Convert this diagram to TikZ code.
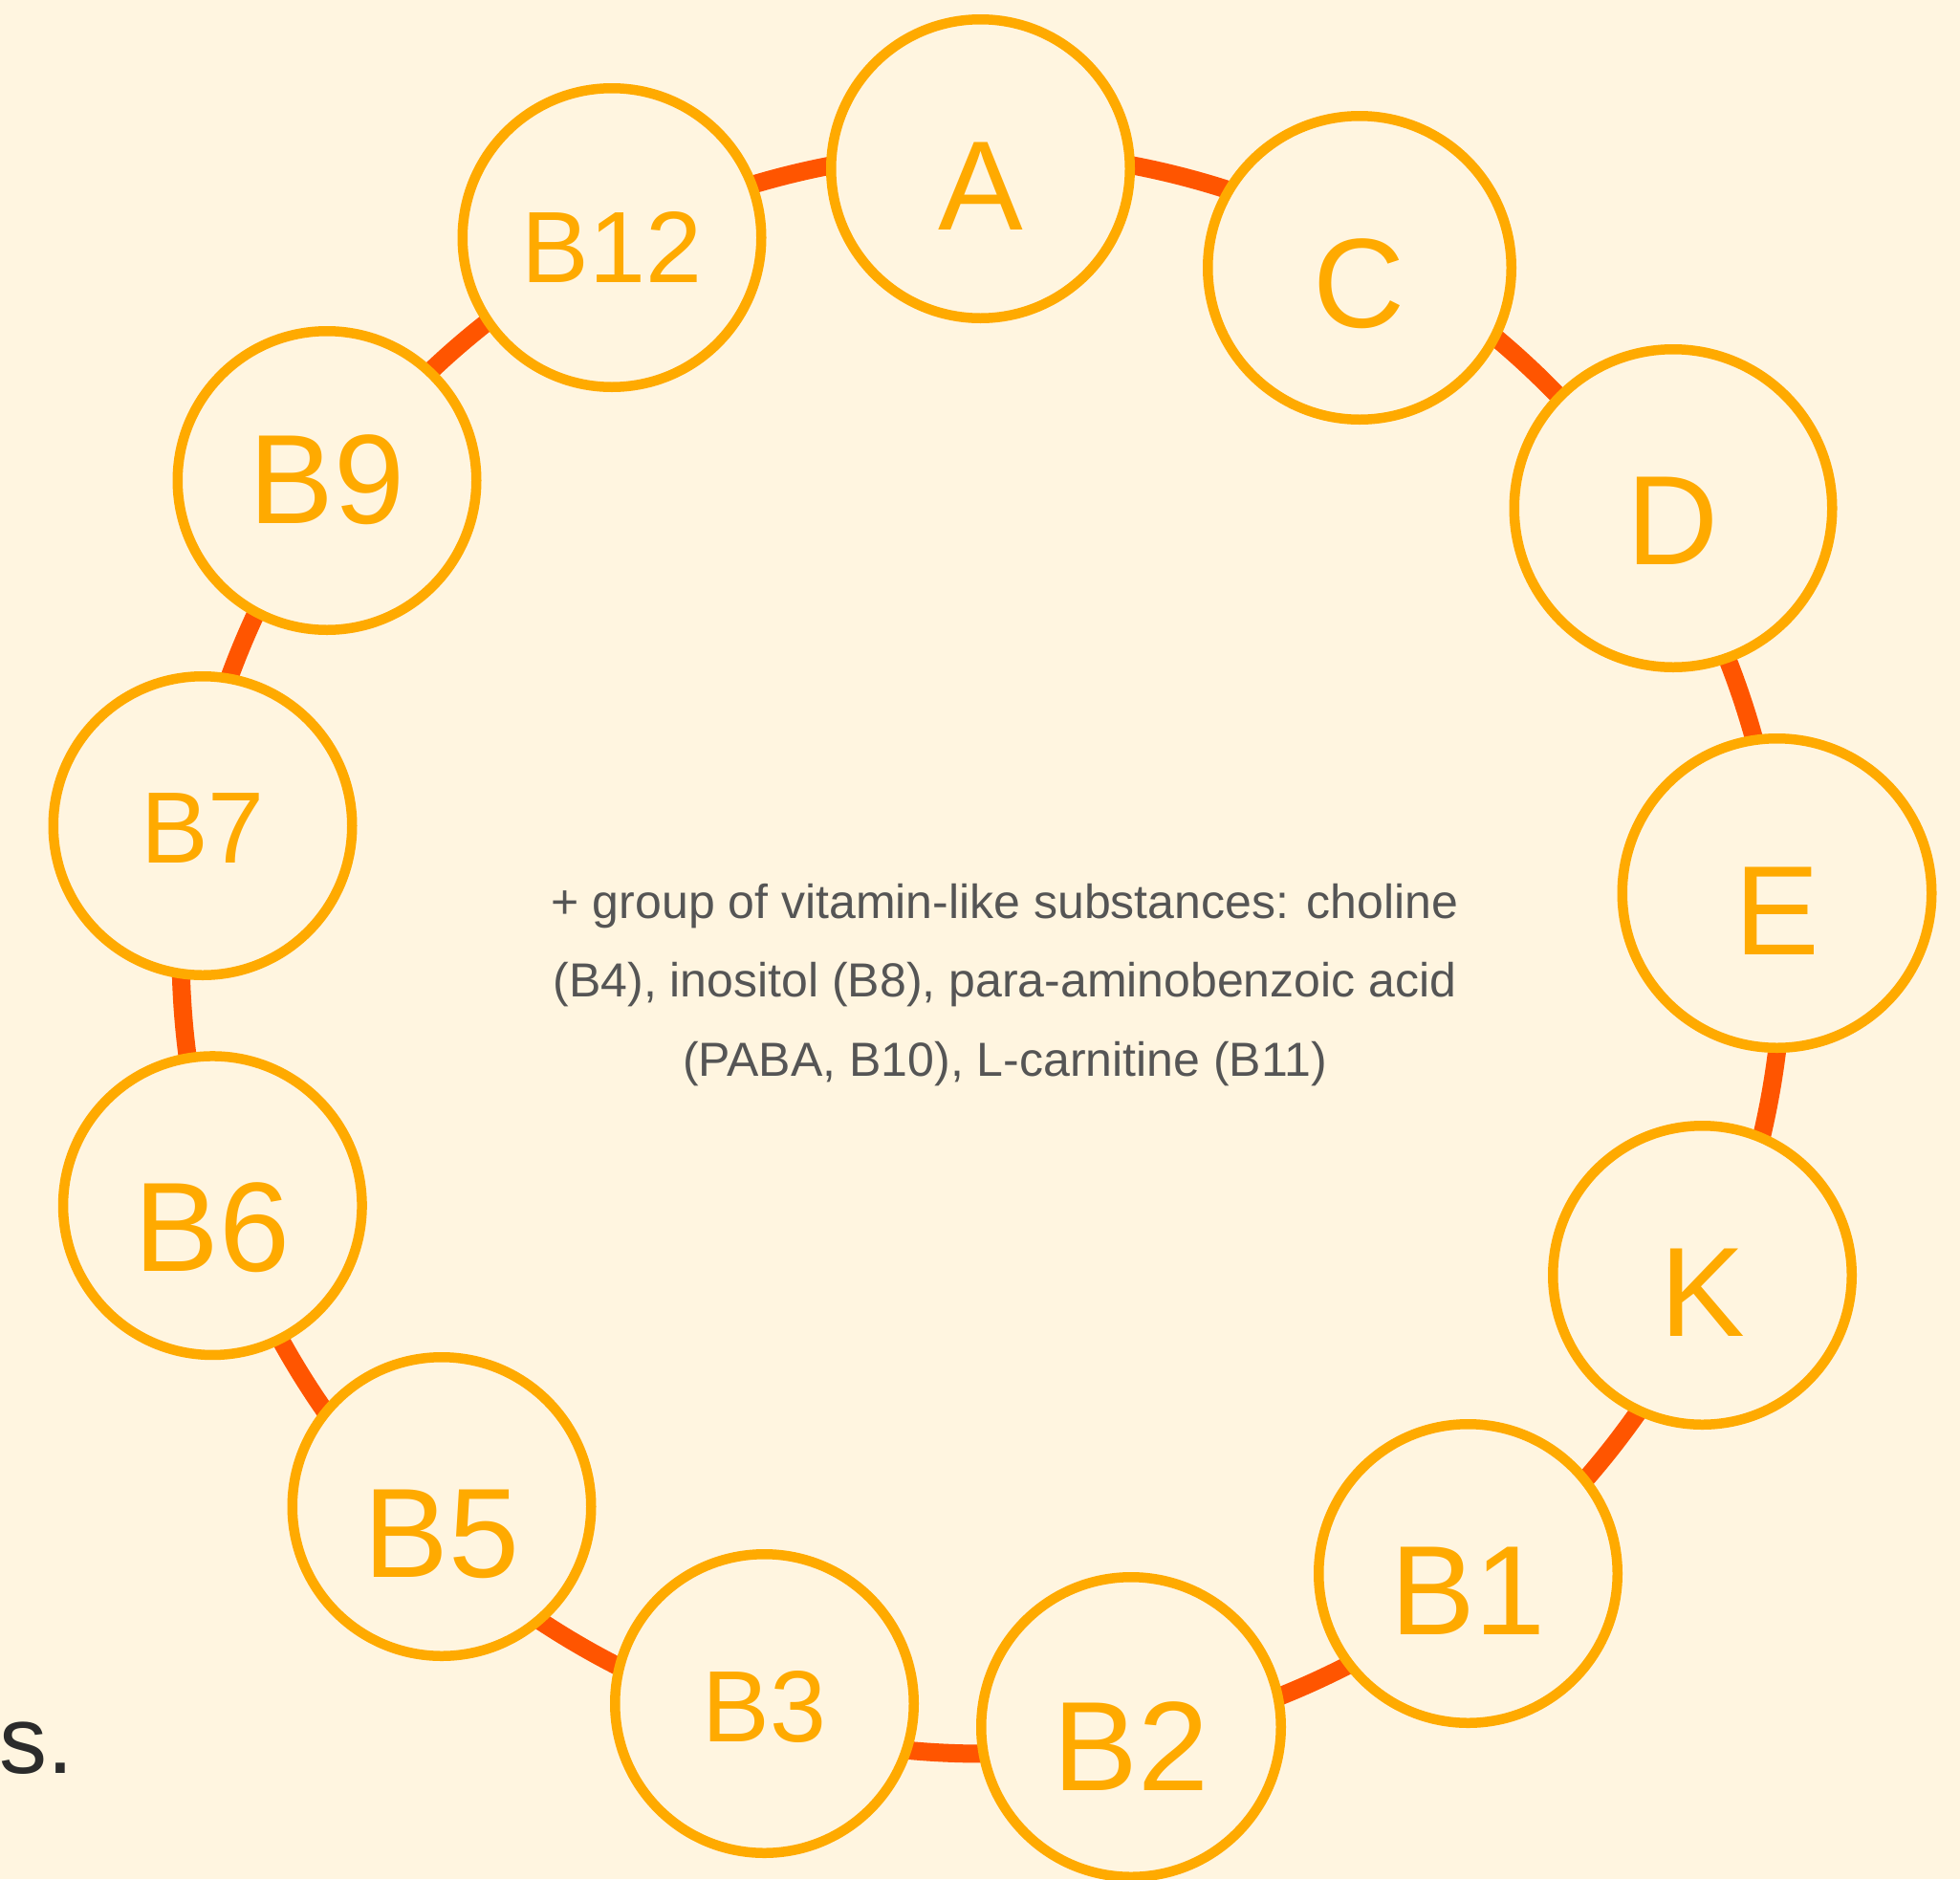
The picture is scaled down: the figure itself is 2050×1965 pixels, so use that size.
\documentclass[tikz,border=0pt]{standalone}
\usepackage{fontspec}
\setmainfont{Liberation Sans}
\usetikzlibrary{calc}

\definecolor{cream}{HTML}{FFF5E0}
\definecolor{amber}{HTML}{FFAA00}
\definecolor{flame}{HTML}{FF5500}
\definecolor{slate}{HTML}{555555}
\definecolor{inkgray}{HTML}{2B2B2B}

\pgfdeclarelayer{background}
\pgfsetlayers{background,main}

% radius of the ring that carries the links
\newcommand\ringR{838pt}

% arc of the ring from one vitamin to the next (shorter way round)
\newcommand\ringlink[2]{%
  \path let \p1=($(#1)-(ring)$), \p2=($(#2)-(ring)$),
      \n1={atan2(\y1,\x1)}, \n2={atan2(\y2,\x2)},
      \n3={mod(\n2-\n1+540,360)-180}
    in [link] ($(ring)+(\n1:\ringR)$) arc[start angle=\n1, delta angle=\n3, radius=\ringR];}

\tikzset{
  vit/.style={circle, draw=amber, line width=10.5pt, fill=cream, inner sep=0pt,
    minimum size=#1, text=amber, text depth=0pt},
  vit/.default=312.5pt,
  big/.style={font=\fontsize{133}{133}\selectfont},
  small/.style={font=\fontsize{106}{106}\selectfont},
  link/.style={draw=flame, line width=19pt},
  note/.style={text=slate, align=center, inner sep=0pt,
    font=\fontsize{50}{82.5}\selectfont},
}

\begin{document}
\begin{tikzpicture}[x=1pt, y=1pt]
  \useasboundingbox (0,0) rectangle (2050,-1965);
  \begin{pgfonlayer}{background}
    \fill[cream] (0,0) rectangle (2050,-1965);
  \end{pgfonlayer}

  \coordinate (ring) at (1027,-996);

  % vitamins, clockwise from the top
  \node[vit, big, text height=128.2pt] (A) at (1025.5,-176.5) {A};
  \node[vit=317.5pt, big, text height=125.2pt] (C) at (1422,-280) {C};
  \node[vit=332.5pt, big, text height=117.2pt] (D) at (1750,-531.5) {D};
  \node[vit=323.5pt, big, text height=128.6pt] (E) at (1858.5,-934) {E};
  \node[vit, big, text height=127.2pt] (K) at (1780.5,-1333.5) {K};
  \node[vit, big, text height=128.2pt] (B1) at (1535.5,-1645.5) {B1};
  \node[vit=313.5pt, big, text height=133.2pt] (B2) at (1183,-1806) {B2};
  \node[vit, small, text height=80.9pt] (B3) at (799.5,-1781.5) {B3};
  \node[vit, big, text height=147.2pt] (B5) at (462,-1575.5) {B5};
  \node[vit, big, text height=137.2pt] (B6) at (222.3,-1260.7) {B6};
  \node[vit, small, text height=78.9pt] (B7) at (212,-863.5) {B7};
  \node[vit, big, text height=90.2pt] (B9) at (342,-502.5) {B9};
  \node[vit, small, text height=94.9pt] (B12) at (640,-248.5) {B12};

  % links along the ring, drawn beneath the circles
  \begin{pgfonlayer}{background}
    \ringlink{A}{C}
    \ringlink{C}{D}
    \ringlink{D}{E}
    \ringlink{E}{K}
    \ringlink{K}{B1}
    \ringlink{B1}{B2}
    \ringlink{B2}{B3}
    \ringlink{B3}{B5}
    \ringlink{B5}{B6}
    \ringlink{B6}{B7}
    \ringlink{B7}{B9}
    \ringlink{B9}{B12}
    \ringlink{B12}{A}
  \end{pgfonlayer}

  % note in the middle of the ring
  \node[note, anchor=north] (extra) at (1051,-923.6)
    {+ group of vitamin-like substances: choline\\
     (B4), inositol (B8), para-aminobenzoic acid\\
     (PABA, B10), L-carnitine (B11)};

  % end of a sentence cut by the left edge
  \node[anchor=base west, inner sep=0pt, text=inkgray,
    font=\fontsize{100}{100}\selectfont] (tail) at (-1,-1854) {s.};
\end{tikzpicture}
\end{document}
